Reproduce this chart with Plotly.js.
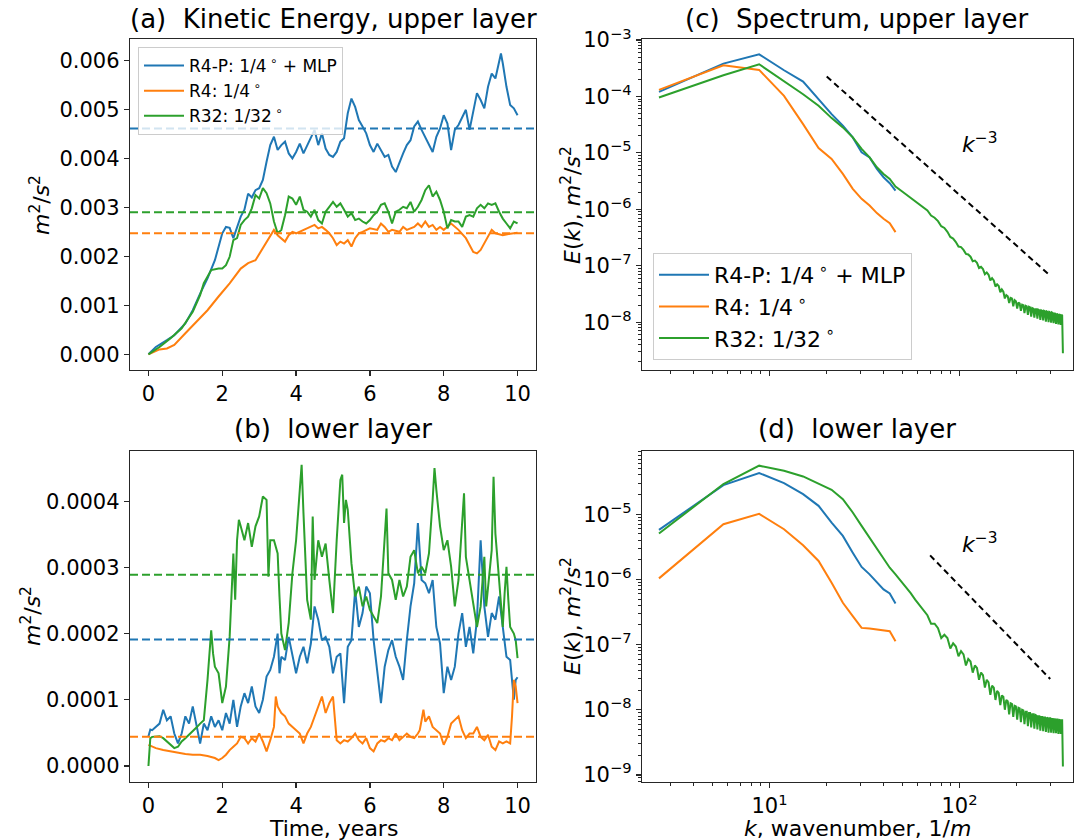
<!DOCTYPE html>
<html>
<head>
<meta charset="utf-8">
<script src="https://cdn.plot.ly/plotly-3.0.1.min.js"></script>
<style>
  html, body { margin: 0; padding: 0; background: #ffffff; }
  #fig { width: 1082px; height: 840px; }
</style>
</head>
<body>
<div id="fig"></div>
<script>
// ---------------- Kinetic energy time series, upper layer (m^2/s^2) ----------------
const upperR4P_t = [0,0.2,0.5,0.7,1.0,1.2,1.4,1.6,1.8,2.0,2.1,2.2,2.3,2.4,2.5,2.6,2.7,2.8,2.9,3.0,3.1,3.2,3.3,3.4,3.5,3.6,3.7,3.8,3.9,4.0,4.1,4.2,4.3,4.4,4.5,4.6,4.7,4.8,4.9,5.0,5.1,5.2,5.3,5.4,5.5,5.6,5.7,5.8,5.9,6.0,6.1,6.2,6.3,6.4,6.5,6.6,6.7,6.8,6.9,7.0,7.1,7.2,7.3,7.4,7.5,7.6,7.7,7.8,7.9,8.0,8.1,8.2,8.3,8.4,8.5,8.6,8.7,8.8,8.9,9.0,9.1,9.2,9.3,9.4,9.5,9.55,9.6,9.7,9.8,9.9,10.0];
const upperR4P = [0,0.00015,0.00029,0.00039,0.00063,0.0009,0.00124,0.00155,0.00192,0.00247,0.0026,0.00258,0.00237,0.0026,0.00281,0.00295,0.00328,0.0032,0.00335,0.00339,0.00356,0.00393,0.00427,0.00444,0.00417,0.00427,0.00434,0.0041,0.004,0.00413,0.0043,0.0041,0.00427,0.00444,0.00458,0.00427,0.00451,0.0042,0.00407,0.00403,0.00413,0.00434,0.00441,0.00492,0.00522,0.00505,0.00478,0.00465,0.00451,0.00427,0.00413,0.0043,0.00417,0.00403,0.00407,0.00383,0.00372,0.00393,0.0041,0.00427,0.00437,0.00465,0.00475,0.00458,0.00444,0.0043,0.00413,0.00444,0.00461,0.00488,0.00471,0.00417,0.00458,0.00468,0.00485,0.00499,0.00458,0.00492,0.00533,0.00519,0.00502,0.00546,0.00573,0.00563,0.00594,0.00614,0.00594,0.00546,0.00509,0.00502,0.00488];

const upperR4_t = [0,0.3,0.5,0.7,1.0,1.3,1.6,1.9,2.2,2.5,2.7,2.9,3.1,3.3,3.4,3.5,3.6,3.7,3.8,3.9,4.0,4.2,4.4,4.5,4.6,4.7,4.8,4.9,5.0,5.1,5.2,5.3,5.4,5.5,5.6,5.7,5.8,6.0,6.2,6.3,6.4,6.5,6.6,6.8,6.9,7.0,7.2,7.3,7.4,7.5,7.6,7.7,7.8,7.9,8.0,8.2,8.4,8.6,8.8,8.9,9.0,9.2,9.3,9.4,9.6,9.8,10.0];
const upperR4 = [0,0.0001,0.00012,0.00019,0.00043,0.00067,0.0009,0.00118,0.00145,0.00175,0.00186,0.00192,0.00216,0.0024,0.00254,0.00243,0.00237,0.0023,0.00243,0.0025,0.00247,0.00254,0.0026,0.00264,0.00257,0.0026,0.00254,0.00247,0.00237,0.00223,0.0023,0.00226,0.00233,0.0022,0.00237,0.00247,0.0025,0.00257,0.00254,0.00267,0.0026,0.0025,0.00254,0.0025,0.0026,0.00254,0.0026,0.00267,0.0026,0.00271,0.0026,0.00264,0.00254,0.0026,0.00254,0.00267,0.00254,0.00237,0.00209,0.00206,0.00213,0.0024,0.00254,0.00247,0.00243,0.00246,0.00248];

const upperR32_t = [0,0.3,0.6,0.9,1.2,1.4,1.5,1.7,1.9,2.0,2.1,2.2,2.3,2.4,2.5,2.6,2.7,2.8,2.9,3.0,3.1,3.2,3.3,3.4,3.5,3.6,3.7,3.8,3.9,4.0,4.1,4.2,4.3,4.4,4.5,4.6,4.7,4.8,4.9,5.0,5.1,5.2,5.3,5.4,5.5,5.6,5.7,5.8,5.9,6.0,6.1,6.2,6.3,6.4,6.5,6.6,6.7,6.8,6.9,7.0,7.1,7.2,7.3,7.4,7.5,7.6,7.7,7.8,7.9,8.0,8.1,8.2,8.3,8.4,8.5,8.6,8.7,8.8,8.9,9.0,9.1,9.2,9.3,9.4,9.5,9.6,9.7,9.8,9.9,10.0];
const upperR32 = [0,0.00015,0.00033,0.00053,0.00087,0.00121,0.00145,0.00172,0.00175,0.00175,0.00182,0.00199,0.00233,0.00237,0.00264,0.00274,0.00281,0.00298,0.00325,0.00318,0.00339,0.00329,0.00308,0.00271,0.00247,0.00254,0.00284,0.00322,0.00318,0.00305,0.00322,0.00295,0.00291,0.00281,0.00295,0.00274,0.00267,0.00291,0.00301,0.00311,0.00301,0.00308,0.00295,0.00281,0.00288,0.00274,0.00277,0.00271,0.00267,0.00274,0.00284,0.00291,0.00305,0.00308,0.00291,0.00267,0.00291,0.00295,0.00301,0.00298,0.00311,0.00291,0.00301,0.00315,0.00335,0.00345,0.00322,0.00332,0.00315,0.00291,0.00257,0.00274,0.00271,0.00271,0.0026,0.00281,0.00284,0.00281,0.00298,0.00305,0.00298,0.00308,0.00305,0.00308,0.00291,0.00277,0.00267,0.00257,0.00271,0.00267];

// time means of each run, upper layer
const upperMeans = [0.00461, 0.00247, 0.00290];

// ---------------- Kinetic energy time series, lower layer (m^2/s^2) ----------------
const lowerR4P_t = [0,0.05,0.1,0.2,0.3,0.4,0.5,0.6,0.7,0.8,0.9,1.0,1.1,1.2,1.3,1.4,1.5,1.6,1.7,1.8,1.9,2.0,2.1,2.2,2.3,2.4,2.5,2.6,2.7,2.8,2.9,3.0,3.1,3.2,3.3,3.4,3.5,3.55,3.6,3.7,3.8,3.9,4.0,4.1,4.2,4.3,4.4,4.5,4.6,4.7,4.8,4.9,5.0,5.1,5.2,5.3,5.4,5.5,5.6,5.7,5.8,5.9,6.0,6.1,6.2,6.3,6.4,6.5,6.6,6.7,6.8,6.9,7.0,7.1,7.2,7.3,7.4,7.5,7.6,7.7,7.8,7.9,8.0,8.1,8.2,8.3,8.4,8.5,8.6,8.7,8.8,8.9,9.0,9.05,9.1,9.2,9.3,9.4,9.5,9.6,9.7,9.8,9.9,9.95,10.0];
const lowerR4P = [0.000045,0.000055,0.000054,0.000059,0.000064,0.000085,0.000069,0.000075,0.000049,0.000034,0.000049,0.000075,0.000064,0.00009,0.000059,0.000034,0.000064,0.000054,0.000075,0.000059,0.000069,0.000054,0.00008,0.000064,0.0001,0.000059,0.00009,0.00011,0.000095,0.00012,0.00009,0.00008,0.0001,0.000135,0.000145,0.000165,0.0002,0.00014,0.000165,0.00016,0.000195,0.000165,0.00014,0.000165,0.00018,0.000155,0.000185,0.000241,0.000221,0.00019,0.000195,0.00018,0.00014,0.000165,0.00017,0.000095,0.00018,0.00019,0.000266,0.00021,0.000231,0.000271,0.000261,0.00019,0.00014,0.000095,0.00015,0.000175,0.00019,0.000165,0.00015,0.00013,0.00019,0.000241,0.000276,0.000367,0.000281,0.000276,0.000261,0.000281,0.00021,0.000185,0.00011,0.00015,0.00013,0.00015,0.0002,0.000231,0.00018,0.00021,0.00017,0.000221,0.000341,0.000291,0.000241,0.000195,0.000231,0.000221,0.000256,0.00021,0.000165,0.00016,0.0001,0.00013,0.000134];

const lowerR4_t = [0,0.1,0.2,0.4,0.6,0.8,1.0,1.2,1.4,1.6,1.8,1.9,2.0,2.1,2.2,2.3,2.4,2.5,2.6,2.7,2.8,2.9,3.0,3.1,3.2,3.3,3.4,3.45,3.5,3.6,3.7,3.8,3.9,4.0,4.1,4.2,4.3,4.4,4.5,4.6,4.7,4.8,4.9,5.0,5.1,5.2,5.3,5.4,5.5,5.6,5.7,5.8,5.9,6.0,6.1,6.2,6.3,6.4,6.5,6.6,6.7,6.8,6.9,7.0,7.1,7.2,7.3,7.35,7.4,7.45,7.5,7.6,7.7,7.8,7.9,8.0,8.1,8.2,8.3,8.4,8.5,8.6,8.7,8.8,8.9,9.0,9.1,9.2,9.3,9.4,9.5,9.6,9.7,9.8,9.85,9.9,9.95,10.0];
const lowerR4 = [0.000032,0.000029,0.000027,0.000024,0.000022,0.000019,0.000018,0.000017,0.000017,0.000015,0.000012,0.000009,0.000012,0.000017,0.000024,0.000029,0.000034,0.000044,0.000042,0.000034,0.000042,0.000037,0.000049,0.000037,0.000022,0.000039,0.000059,0.000105,0.00009,0.00008,0.000075,0.000064,0.000059,0.000054,0.000049,0.000034,0.000049,0.000059,0.000075,0.00009,0.000105,0.00008,0.000095,0.000105,0.000039,0.000034,0.000039,0.000037,0.000042,0.000049,0.000039,0.000034,0.000042,0.000027,0.000022,0.000034,0.000039,0.000037,0.000042,0.000039,0.000049,0.000039,0.000044,0.000049,0.000044,0.000042,0.000049,0.000054,0.000069,0.000085,0.000067,0.000075,0.000059,0.000054,0.000049,0.000032,0.000044,0.000064,0.000069,0.000075,0.000054,0.000042,0.000049,0.000049,0.000059,0.000044,0.000039,0.000047,0.000029,0.000024,0.000037,0.000034,0.000037,0.000034,0.000075,0.00013,0.00012,0.000095];

const lowerR32_t = [0,0.05,0.1,0.2,0.3,0.4,0.5,0.6,0.7,0.8,0.9,1.0,1.1,1.2,1.3,1.4,1.5,1.6,1.7,1.75,1.8,1.9,2.0,2.1,2.2,2.3,2.35,2.4,2.45,2.5,2.6,2.7,2.8,2.9,3.0,3.1,3.2,3.25,3.3,3.4,3.5,3.55,3.6,3.7,3.8,3.9,4.0,4.1,4.15,4.2,4.3,4.4,4.45,4.5,4.6,4.7,4.8,4.9,5.0,5.1,5.2,5.25,5.3,5.35,5.4,5.5,5.6,5.7,5.8,5.9,6.0,6.1,6.2,6.3,6.4,6.45,6.5,6.6,6.7,6.8,6.9,7.0,7.1,7.2,7.3,7.4,7.5,7.6,7.7,7.75,7.8,7.9,8.0,8.1,8.2,8.3,8.4,8.5,8.55,8.6,8.7,8.8,8.9,9.0,9.1,9.15,9.2,9.3,9.35,9.4,9.5,9.6,9.65,9.7,9.75,9.8,9.9,9.95,10.0];
const lowerR32 = [0,0.000042,0.000044,0.000045,0.000045,0.000042,0.000037,0.000032,0.000027,0.000029,0.000037,0.000042,0.000047,0.000052,0.000058,0.000064,0.000069,0.00013,0.000205,0.00017,0.00015,0.00014,0.000095,0.00012,0.000195,0.000321,0.000251,0.000341,0.000372,0.000362,0.000341,0.000367,0.000331,0.000362,0.000377,0.000407,0.000402,0.000286,0.000341,0.000341,0.000321,0.000256,0.0002,0.000175,0.000216,0.000291,0.000341,0.000417,0.000455,0.000382,0.000251,0.000221,0.000377,0.000281,0.000341,0.000316,0.000336,0.000281,0.000231,0.000341,0.000432,0.00044,0.000367,0.000402,0.000387,0.000306,0.000256,0.000271,0.000241,0.000256,0.000236,0.000226,0.000216,0.000256,0.000341,0.000389,0.000291,0.000281,0.000251,0.000281,0.000256,0.000271,0.000316,0.000326,0.000291,0.000301,0.000291,0.000321,0.000402,0.00045,0.000417,0.000362,0.000326,0.000341,0.000301,0.000241,0.000281,0.000367,0.000412,0.000316,0.000281,0.000246,0.00021,0.000241,0.000316,0.000241,0.000271,0.000326,0.000437,0.000351,0.000281,0.00021,0.000261,0.000301,0.000251,0.00021,0.0002,0.00019,0.000163];

// time means of each run, lower layer
const lowerMeans = [0.000191, 0.000044, 0.000289];

// ---------------- Energy spectra: log10 E(k), m^2/s^2 ----------------
// wavenumber grid: k_n = dk*n - kShift, n = 1..N
const dk = 3.1, kShift = 0.48;

const specUpperR4P = [-3.919,-3.418,-3.253,-3.536,-3.736,-4.048,-4.313,-4.519,-4.726,-4.99,-5.08,-5.285,-5.432,-5.538,-5.668];
const specUpperR4  = [-3.883,-3.448,-3.53,-3.989,-4.49,-4.914,-5.108,-5.373,-5.638,-5.815,-5.933,-6.068,-6.168,-6.245,-6.404];
const specUpperR32 = [-4.019,-3.624,-3.43,-3.724,-3.96,-4.166,-4.384,-4.549,-4.726,-4.93,-5.079,-5.256,-5.373,-5.462,-5.597,
  -5.667,-5.734,-5.796,-5.856,-5.91,-5.962,-6.02,-6.11,-6.15,-6.21,-6.30,-6.33,-6.40,-6.49,-6.52,
  -6.58,-6.66,-6.67,-6.72,-6.79,-6.80,-6.84,-6.92,-6.91,-6.95,-7.04,-7.02,-7.06,-7.15,-7.12,
  -7.16,-7.26,-7.22,-7.26,-7.37,-7.33,-7.36,-7.47,-7.42,-7.46,-7.58,-7.52,-7.54,-7.66,-7.57,
  -7.58,-7.72,-7.61,-7.63,-7.76,-7.65,-7.67,-7.80,-7.69,-7.70,-7.84,-7.71,-7.72,-7.87,-7.73,
  -7.74,-7.90,-7.75,-7.76,-7.92,-7.77,-7.77,-7.94,-7.78,-7.79,-7.96,-7.79,-7.80,-7.97,-7.80,
  -7.81,-7.99,-7.81,-7.82,-8.00,-7.82,-7.83,-8.01,-7.83,-7.84,-8.02,-7.84,-7.85,-8.03,-7.85,
  -7.86,-8.04,-7.86,-7.87,-8.05,-7.87,-7.88,-8.55];

const specLowerR4P = [-5.241,-4.554,-4.369,-4.523,-4.692,-4.872,-5.128,-5.333,-5.59,-5.81,-5.923,-6.041,-6.154,-6.215,-6.369];
const specLowerR4  = [-5.985,-5.154,-4.995,-5.231,-5.477,-5.718,-6.051,-6.359,-6.564,-6.744,-6.754,-6.769,-6.779,-6.795,-6.949];
const specLowerR32 = [-5.297,-4.538,-4.256,-4.333,-4.421,-4.528,-4.626,-4.769,-4.974,-5.179,-5.359,-5.538,-5.692,-5.821,-5.923,
  -6.02,-6.11,-6.21,-6.31,-6.40,-6.48,-6.55,-6.68,-6.68,-6.75,-6.90,-6.85,-6.90,-7.06,-6.98,
  -7.03,-7.18,-7.10,-7.15,-7.32,-7.22,-7.26,-7.43,-7.32,-7.36,-7.54,-7.43,-7.47,-7.66,-7.54,
  -7.58,-7.77,-7.63,-7.66,-7.85,-7.71,-7.74,-7.93,-7.78,-7.80,-8.00,-7.85,-7.87,-8.07,-7.90,
  -7.91,-8.11,-7.94,-7.95,-8.15,-7.97,-7.98,-8.19,-8.00,-8.01,-8.22,-8.03,-8.03,-8.25,-8.05,
  -8.05,-8.27,-8.07,-8.07,-8.29,-8.08,-8.09,-8.30,-8.10,-8.10,-8.32,-8.11,-8.11,-8.33,-8.12,
  -8.12,-8.34,-8.12,-8.13,-8.35,-8.13,-8.13,-8.35,-8.14,-8.14,-8.36,-8.14,-8.15,-8.36,-8.15,
  -8.15,-8.37,-8.15,-8.16,-8.37,-8.16,-8.16,-8.87];

// k^-3 reference slopes: E = C * k^-3 over [k0, k1]
const slopeUpper = {C: 1.8, k: [20, 300]};
const slopeLower = {C: 0.8, k: [70, 300]};

const runNames = ['R4-P: 1/4\u2009<sup>∘</sup> + MLP', 'R4: 1/4\u2009<sup>∘</sup>', 'R32: 1/32\u2009<sup>∘</sup>'];
const runColors = ['#1f77b4', '#ff7f0e', '#2ca02c'];

// ---------------- helpers ----------------
function kGrid(n) { const k = []; for (let i = 1; i <= n; i++) k.push(dk * i - kShift); return k; }
function fromLog(a) { return a.map(v => Math.pow(10, v)); }

const W = 1082, H = 840;
const px = x => x / W;            // horizontal pixel -> paper
const py = y => 1 - y / H;        // vertical pixel -> paper
const FONT = 'DejaVu Sans, Verdana, sans-serif';
const INK = '#262626';

const traces = [];
function line(x, y, ci, xa, ya, legend, show) {
  traces.push({x, y, type: 'scatter', mode: 'lines', name: runNames[ci],
    line: {color: runColors[ci], width: 2}, xaxis: xa, yaxis: ya,
    legend: legend, legendgroup: legend + ci, showlegend: show, hoverinfo: 'skip'});
}

// (a) upper layer energy
line(upperR4P_t, upperR4P, 0, 'x', 'y', 'legend', true);
line(upperR4_t, upperR4, 1, 'x', 'y', 'legend', true);
line(upperR32_t, upperR32, 2, 'x', 'y', 'legend', true);
// (b) lower layer energy
line(lowerR4P_t, lowerR4P, 0, 'x2', 'y2', 'legend', false);
line(lowerR4_t, lowerR4, 1, 'x2', 'y2', 'legend', false);
line(lowerR32_t, lowerR32, 2, 'x2', 'y2', 'legend', false);
// (c) upper spectra
line(kGrid(specUpperR4P.length), fromLog(specUpperR4P), 0, 'x3', 'y3', 'legend2', true);
line(kGrid(specUpperR4.length), fromLog(specUpperR4), 1, 'x3', 'y3', 'legend2', true);
line(kGrid(specUpperR32.length), fromLog(specUpperR32), 2, 'x3', 'y3', 'legend2', true);
// (d) lower spectra
line(kGrid(specLowerR4P.length), fromLog(specLowerR4P), 0, 'x4', 'y4', 'legend2', false);
line(kGrid(specLowerR4.length), fromLog(specLowerR4), 1, 'x4', 'y4', 'legend2', false);
line(kGrid(specLowerR32.length), fromLog(specLowerR32), 2, 'x4', 'y4', 'legend2', false);

// k^-3 guides
[[slopeUpper, 'x3', 'y3'], [slopeLower, 'x4', 'y4']].forEach(([s, xa, ya]) => {
  traces.push({x: s.k, y: s.k.map(k => s.C * Math.pow(k, -3)), type: 'scatter', mode: 'lines',
    line: {color: '#000', width: 2, dash: '6px,4px'}, xaxis: xa, yaxis: ya, showlegend: false, hoverinfo: 'skip'});
});

// mean lines
const shapes = [];
upperMeans.forEach((m, i) => shapes.push({type: 'line', xref: 'x domain', yref: 'y', x0: 0, x1: 1, y0: m, y1: m,
  line: {color: runColors[i], width: 2, dash: '8px,4px'}}));
lowerMeans.forEach((m, i) => shapes.push({type: 'line', xref: 'x2 domain', yref: 'y2', x0: 0, x1: 1, y0: m, y1: m,
  line: {color: runColors[i], width: 2, dash: '8px,4px'}}));

// axis geometry (pixels)
const leftX = [130, 536], rightX = [642, 1073];
const topY = [39, 370], botY = [451, 782];

function minorLog(lo, hi) {
  const v = [];
  for (let e = lo; e < hi; e++) for (let m = 2; m <= 9; m++) v.push(m * Math.pow(10, e));
  return v;
}
function decadeLabels(e0, e1) {
  const vals = [], txt = [];
  for (let e = e0; e <= e1; e++) { vals.push(Math.pow(10, e)); txt.push('10<sup>' + (e < 0 ? '−' + (-e) : e) + '</sup>'); }
  return {vals, txt};
}
const base = {
  showline: true, mirror: true, linecolor: INK, linewidth: 1.2,
  ticks: 'outside', ticklen: 5, tickwidth: 1.2, tickcolor: INK,
  showgrid: false, zeroline: false, fixedrange: true,
  tickfont: {family: FONT, size: 21, color: '#000'}
};
const timeTicks = [0, 2, 4, 6, 8, 10];
const yUp = decadeLabels(-8, -3), yLo = decadeLabels(-9, -5), xK = decadeLabels(1, 2);
const logMinor = (lo, hi) => ({ticks: 'outside', ticklen: 3, tickwidth: 1, tickcolor: INK, tickmode: 'array', tickvals: minorLog(lo, hi)});

const layout = {
  width: W, height: H, margin: {l: 0, r: 0, t: 0, b: 0},
  paper_bgcolor: '#fff', plot_bgcolor: '#fff',
  font: {family: FONT, color: '#000'},
  xaxis: Object.assign({}, base, {domain: [px(leftX[0]), px(leftX[1])], anchor: 'y', range: [-0.5, 10.5],
    tickmode: 'array', tickvals: timeTicks}),
  yaxis: Object.assign({}, base, {domain: [py(topY[1]), py(topY[0])], anchor: 'x', range: [-0.00032, 0.006435],
    tickmode: 'array', tickvals: [0, 0.001, 0.002, 0.003, 0.004, 0.005, 0.006], tickformat: '.3f'}),
  xaxis2: Object.assign({}, base, {domain: [px(leftX[0]), px(leftX[1])], anchor: 'y2', range: [-0.5, 10.5],
    tickmode: 'array', tickvals: timeTicks}),
  yaxis2: Object.assign({}, base, {domain: [py(botY[1]), py(botY[0])], anchor: 'x2', range: [-0.0000242, 0.0004758],
    tickmode: 'array', tickvals: [0, 0.0001, 0.0002, 0.0003, 0.0004], tickformat: '.4f'}),
  xaxis3: Object.assign({}, base, {domain: [px(rightX[0]), px(rightX[1])], anchor: 'y3', type: 'log', range: [0.329, 2.597],
    tickmode: 'array', tickvals: xK.vals, showticklabels: false, minor: logMinor(0, 3)}),
  yaxis3: Object.assign({}, base, {domain: [py(topY[1]), py(topY[0])], anchor: 'x3', type: 'log', range: [-8.848, -2.982],
    tickmode: 'array', tickvals: yUp.vals, ticktext: yUp.txt, minor: logMinor(-9, -2)}),
  xaxis4: Object.assign({}, base, {domain: [px(rightX[0]), px(rightX[1])], anchor: 'y4', type: 'log', range: [0.329, 2.597],
    tickmode: 'array', tickvals: xK.vals, ticktext: xK.txt, minor: logMinor(0, 3)}),
  yaxis4: Object.assign({}, base, {domain: [py(botY[1]), py(botY[0])], anchor: 'x4', type: 'log', range: [-9.108, -4.031],
    tickmode: 'array', tickvals: yLo.vals, ticktext: yLo.txt, minor: logMinor(-10, -3)}),
  legend: {x: px(138), y: py(47), xanchor: 'left', yanchor: 'top', bgcolor: 'rgba(255,255,255,0.8)',
    bordercolor: '#cccccc', borderwidth: 1, font: {family: FONT, size: 17, color: '#000'}, itemwidth: 40, tracegroupgap: 0},
  legend2: {x: px(653), y: py(253), xanchor: 'left', yanchor: 'top', bgcolor: 'rgba(255,255,255,0.8)',
    bordercolor: '#cccccc', borderwidth: 1, font: {family: FONT, size: 22, color: '#000'}, itemwidth: 50, tracegroupgap: 0},
  shapes: shapes,
  annotations: [
    {text: '(a)  Kinetic Energy, upper layer', x: px(333), y: py(19), font: {size: 26}},
    {text: '(b)  lower layer', x: px(333), y: py(429), font: {size: 26}},
    {text: '(c)  Spectrum, upper layer', x: px(857), y: py(19), font: {size: 26}},
    {text: '(d)  lower layer', x: px(857), y: py(429), font: {size: 26}},
    {text: '<i>m</i><sup>2</sup>/<i>s</i><sup>2</sup>', x: px(40), y: py(205), textangle: -90, font: {size: 22}},
    {text: '<i>m</i><sup>2</sup>/<i>s</i><sup>2</sup>', x: px(31), y: py(616), textangle: -90, font: {size: 22}},
    {text: '<i>E</i>(<i>k</i>), <i>m</i><sup>2</sup>/<i>s</i><sup>2</sup>', x: px(571), y: py(205), textangle: -90, font: {size: 22}},
    {text: '<i>E</i>(<i>k</i>), <i>m</i><sup>2</sup>/<i>s</i><sup>2</sup>', x: px(571), y: py(616), textangle: -90, font: {size: 22}},
    {text: 'Time, years', x: px(333), y: py(828), font: {size: 22}},
    {text: '<i>k</i>, wavenumber, 1/<i>m</i>', x: px(857), y: py(828), font: {size: 22}},
    {text: '<i>k</i><sup>−3</sup>', x: px(960), y: py(143), xanchor: 'left', font: {size: 22}},
    {text: '<i>k</i><sup>−3</sup>', x: px(960), y: py(543), xanchor: 'left', font: {size: 22}}
  ].map(a => Object.assign({xref: 'paper', yref: 'paper', showarrow: false, xanchor: 'center', yanchor: 'middle'}, a,
    {font: Object.assign({family: FONT, color: '#000'}, a.font)}))
};

Plotly.newPlot('fig', traces, layout, {staticPlot: true, displayModeBar: false});
</script>
</body>
</html>
